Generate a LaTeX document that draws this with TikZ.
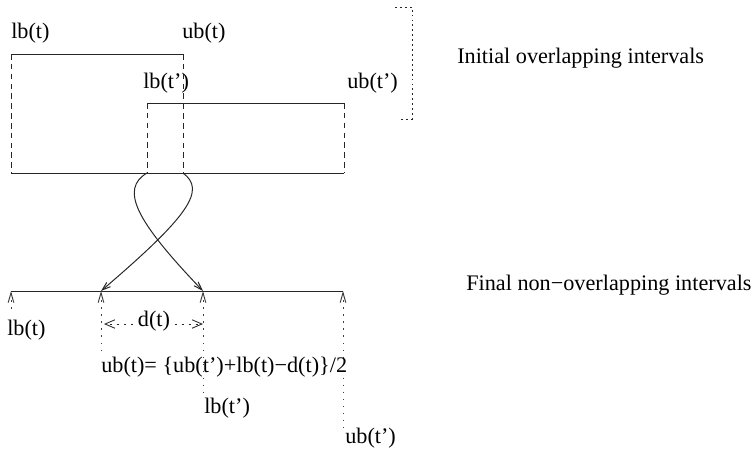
\documentclass[tikz,border=0pt]{standalone}
\usepackage{fontspec}
\setmainfont{Liberation Serif}
\usetikzlibrary{arrows.meta}
\tikzset{
  lbl/.style={inner sep=0pt,anchor=base west,font=\fontsize{15.8}{18}\selectfont},
  note/.style={inner sep=0pt,anchor=west,font=\fontsize{15.8}{18}\selectfont},
  ival/.style={line width=0.7pt,black!85},
  guide/.style={line width=0.6pt,black!85,dash pattern=on 4pt off 3pt},
  brk/.style={line width=0.7pt,black!85,dash pattern=on 1.3pt off 2.2pt},
  drop/.style={line width=0.7pt,black!75,dash pattern=on 1pt off 4pt},
  dim/.style={line width=0.6pt,black!85,dash pattern=on 2pt off 3pt},
}

\begin{document}
\begin{tikzpicture}[x=0.025cm,y=-0.025cm,>={Straight Barb[length=6pt,width=4pt]}]
  \useasboundingbox (0,0) rectangle (752,449);
  % initial intervals
  \coordinate (lt) at (11,54);   \coordinate (ut) at (183,54);
  \coordinate (lt2) at (147,103); \coordinate (ut2) at (344,103);
  \coordinate (b0) at (11,173);  \coordinate (b1) at (344,173);
  \coordinate (blt) at (147,173); \coordinate (but) at (183,173);
  \draw[ival] (lt) -- (ut);
  \draw[ival] (lt2) -- (ut2);
  \draw[ival] (b0) -- (b1);
  \draw[guide] (lt) -- (b0);
  \draw[guide] (ut) -- (but);
  \draw[guide] (lt2) -- (blt);
  \draw[guide] (ut2) -- (b1);
  \node[lbl] (tlb) at (11,38) {lb(t)};
  \node[lbl] (tub) at (182,38) {ub(t)};
  \node[lbl] (tlb2) at (143,88) {lb(t')};
  \node[lbl] (tub2) at (347,88) {ub(t')};
  % bracket
  \coordinate (k1) at (395,7);   \coordinate (k2) at (412,7);
  \coordinate (k3) at (412,119); \coordinate (k4) at (399,119);
  \draw[brk] (k1) -- (k2) -- (k3) -- (k4);
  \node[note] (init) at (457,58) {Initial overlapping intervals};
  % final intervals
  \coordinate (f0) at (11,291);  \coordinate (f1) at (101,291);
  \coordinate (f2) at (203,291); \coordinate (f3) at (343,291);
  \draw[ival] (f0) -- (f3);
  \draw[ival,->] (blt) .. controls (120,189) and (135,220) .. (f2);
  \draw[ival,->] (but) .. controls (206,190) and (190,215) .. (f1);
  \coordinate (d0) at (11,313);  \coordinate (d1) at (101,352);
  \coordinate (d2) at (203,398); \coordinate (d3) at (343,433);
  \foreach \i in {0,...,3}
    \draw[drop,{Straight Barb[length=7pt,width=4pt]}-] (f\i) -- (d\i);
  \node[lbl] (blb) at (7,335) {lb(t)};
  \node[lbl] (bub) at (101,372) {ub(t)= \{ub(t')+lb(t)−d(t)\}/2};
  \node[lbl] (blb2) at (204,413) {lb(t')};
  \node[lbl] (bub2) at (345,443) {ub(t')};
  % d(t)
  \coordinate (m0) at (104,324); \coordinate (m1) at (203,324);
  \node[lbl,anchor=base,inner xsep=3pt] (dt) at (154,326) {d(t)};
  \draw[dim,->,>={Straight Barb[length=7pt,width=6pt]}] (dt.west |- m0) -- (m0);
  \draw[dim,->,>={Straight Barb[length=7pt,width=6pt]}] (dt.east |- m1) -- (m1);
  \node[note] (final) at (466,285) {Final non−overlapping intervals};
\end{tikzpicture}
\end{document}
